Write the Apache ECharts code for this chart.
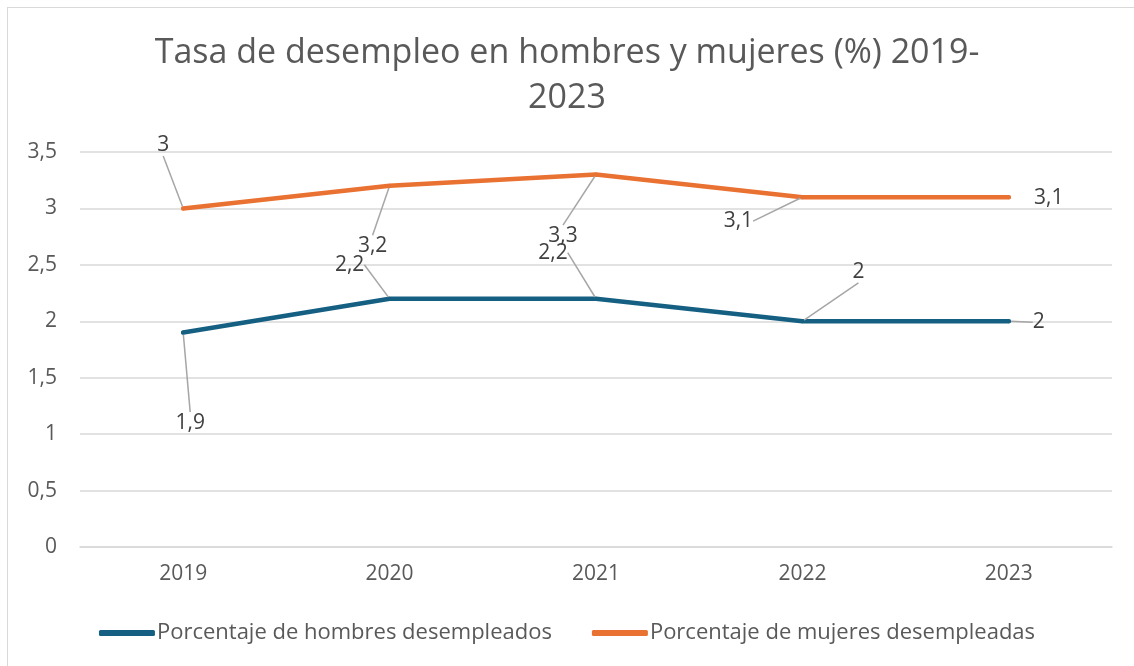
<!DOCTYPE html>
<html>
<head>
<meta charset="utf-8">
<title>Tasa de desempleo</title>
<script src="https://cdn.jsdelivr.net/npm/echarts@6/dist/echarts.min.js"></script>
<style>
  html, body { margin: 0; padding: 0; background: #fff; }
  #chart { width: 1134px; height: 666px; }
  #frame {
    position: absolute; left: 7px; top: 7px; width: 1140px; height: 670px;
    border: 1.5px solid #d9d9d9; pointer-events: none;
  }
</style>
</head>
<body>
<div id="chart"></div>
<div id="frame"></div>
<script>
  // datos
  var years = ['2019', '2020', '2021', '2022', '2023']
  var hombres = [1.9, 2.2, 2.2, 2, 2]
  var mujeres = [3, 3.2, 3.3, 3.1, 3.1]
  var yTicks = ['0', '0,5', '1', '1,5', '2', '2,5', '3', '3,5']

  // desplazamiento de las etiquetas (dx, dy) respecto al punto
  var offHombres = [[7, 90], [-40, -34], [-43, -46], [56, -49], [30, 1]]
  var offMujeres = [[-20, -63], [-17, 60], [-33, 61], [-64, 24], [40, 1]]
  // etiquetas sin línea guía
  var sinLineaH = []
  var sinLineaM = [4]

  var fontFam = '"Open Sans", Roboto, sans-serif'
  var fmt = function (p) { return String(p.value).replace('.', ',') }

  function makeSeries(name, data, color, offs, sinLinea) {
    return {
      name: name,
      type: 'line',
      data: data.map(function (v, i) {
        return sinLinea.indexOf(i) >= 0 ? { value: v, labelLine: { show: false } } : v
      }),
      symbol: 'circle',
      symbolSize: 4,
      showSymbol: true,
      itemStyle: { color: color },
      lineStyle: { color: color, width: 4.5, cap: 'round', join: 'round' },
      label: {
        show: true,
        position: 'inside',
        formatter: fmt,
        color: '#404040',
        fontSize: 21,
        fontFamily: fontFam
      },
      labelLine: {
        show: true,
        lineStyle: { color: '#a6a6a6', width: 1.5 }
      },
      labelLayout: function (params) {
        var o = offs[params.dataIndex]
        return { dx: o[0], dy: o[1] }
      },
      animation: false
    }
  }

  var chart = echarts.init(document.getElementById('chart'))
  chart.setOption({
    title: {
      text: 'Tasa de desempleo en hombres y mujeres (%) 2019-\n2023',
      left: 'center',
      top: 26,
      textStyle: {
        color: '#595959',
        fontSize: 34,
        fontWeight: 'normal',
        fontFamily: fontFam,
        lineHeight: 45
      }
    },
    grid: { left: 80, right: 22, top: 152, bottom: 119 },
    xAxis: {
      type: 'category',
      data: years,
      boundaryGap: true,
      axisLine: { show: true, lineStyle: { color: '#d9d9d9', width: 1.5 } },
      axisTick: { show: false },
      axisLabel: { color: '#595959', fontSize: 21, fontFamily: fontFam, margin: 17 }
    },
    yAxis: {
      type: 'value',
      min: 0,
      max: 3.5,
      interval: 0.5,
      axisLine: { show: false },
      axisTick: { show: false },
      splitLine: { lineStyle: { color: '#d9d9d9', width: 1.5 } },
      axisLabel: {
        color: '#595959', fontSize: 21, fontFamily: fontFam, margin: 23,
        formatter: function (v) { return yTicks[Math.round(v / 0.5)] }
      }
    },
    legend: {
      top: 617,
      left: 'center',
      itemGap: 40,
      itemWidth: 56,
      itemHeight: 6,
      icon: 'roundRect',
      textStyle: { color: '#595959', fontSize: 22, fontFamily: fontFam, padding: [0, 0, 0, -3] }
    },
    series: [
      makeSeries('Porcentaje de hombres desempleados', hombres, '#156082', offHombres, sinLineaH),
      makeSeries('Porcentaje de mujeres desempleadas', mujeres, '#e97132', offMujeres, sinLineaM)
    ]
  })
</script>
</body>
</html>
